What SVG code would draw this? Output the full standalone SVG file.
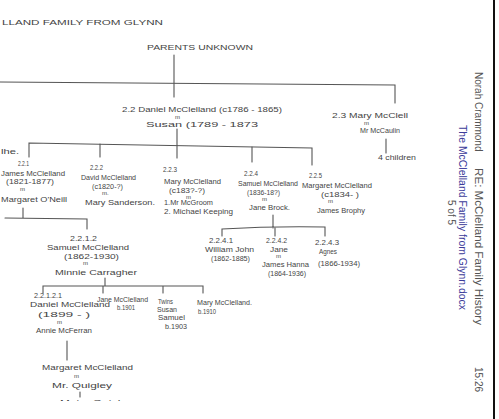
<svg xmlns="http://www.w3.org/2000/svg" width="499" height="419" viewBox="0 0 499 419">
<style>
.h{font-family:"Liberation Sans",Arial,sans-serif;font-size:7.5px;fill:#444;}
.s{font-size:6.5px;}
.m{font-size:6px;}
.cap{font-size:7.5px;}
.ln{stroke:#555;stroke-width:1.1;fill:none;stroke-linecap:round;}
.hd{font-family:"Liberation Sans",Arial,sans-serif;font-size:10px;fill:#555;}
.bl{fill:#3b3b9a;}
</style>
<defs>
<clipPath id="cut"><rect x="0" y="0" width="499" height="401"/></clipPath>
</defs>
<rect width="499" height="419" fill="#fff"/>
<line x1="494" y1="0" x2="494" y2="419" stroke="#111" stroke-width="2"/>
<g id="header">
<text class="hd" transform="translate(475,72) rotate(90)">Norah Crammond</text>
<text class="hd" transform="translate(475,168) rotate(90)" textLength="157" lengthAdjust="spacingAndGlyphs">RE: McClelland Family History</text>
<text class="hd" transform="translate(475,367) rotate(90)">15:26</text>
<text class="hd bl" transform="translate(459,125) rotate(90)" textLength="185" lengthAdjust="spacingAndGlyphs">The McClelland Family from Glynn.docx</text>
<text class="hd" transform="translate(448,200) rotate(90)">5 of 5</text>
</g>
<g id="title"><text class="h cap" x="2" y="25" textLength="161" lengthAdjust="spacingAndGlyphs">LLAND FAMILY FROM GLYNN</text></g>
<g id="connectors">
<path class="ln" d="M174,55 L174,97"/>
<path class="ln" d="M0,82 L395,85 L395,103"/>
<path class="ln" d="M177,129 L177,158"/>
<path class="ln" d="M29,157 L29,143 L312,148 L312,165"/>
<path class="ln" d="M100,144 L100,157 M252,147 L252,162"/>
<path class="ln" d="M386,139 L386,153"/>
<path class="ln" d="M23,208 L23,218 M5,218 L87,219 L87,229"/>
<path class="ln" d="M273,215 L273,228 M222,236 L222,229 Q273,226 325,227 L325,236 M275,228 L275,236"/>
<path class="ln" d="M105,278 L105,286 M43,293 L43,286 L203,286 L203,293 M103,286 L103,293 M163,286 L163,293"/>
<path class="ln" d="M67,341 L67,360"/>
<path class="ln" d="M80,392 L80,397"/>
</g>
<g id="parents"><text class="h cap" x="147" y="50" textLength="106" lengthAdjust="spacingAndGlyphs">PARENTS UNKNOWN</text></g>
<g id="n22">
<text class="h" x="122" y="112" textLength="160" lengthAdjust="spacingAndGlyphs">2.2 Daniel McClelland (c1786 - 1865)</text>
<text class="h m" x="175" y="119">m</text>
<text class="h" x="146" y="127" textLength="112" lengthAdjust="spacingAndGlyphs">Susan (1789 - 1873</text>
</g>
<g id="n23">
<text class="h" x="332" y="118" textLength="76" lengthAdjust="spacingAndGlyphs">2.3 Mary McClell</text>
<text class="h m" x="364" y="125">m</text>
<text class="h s" x="360" y="133" textLength="40" lengthAdjust="spacingAndGlyphs">Mr McCaulin</text>
<text class="h s" x="378" y="160" textLength="38" lengthAdjust="spacingAndGlyphs">4 children</text>
</g>
<g id="nleft"><text class="h" x="1" y="154" textLength="18" lengthAdjust="spacingAndGlyphs">lhe.</text></g>
<g id="n221">
<text class="h" x="18" y="166" textLength="11" lengthAdjust="spacingAndGlyphs">2.2.1</text>
<text class="h" x="1" y="176" textLength="64" lengthAdjust="spacingAndGlyphs">James McClelland</text>
<text class="h" x="6" y="184" textLength="48" lengthAdjust="spacingAndGlyphs">(1821-1877)</text>
<text class="h m" x="20" y="191">m</text>
<text class="h" x="1" y="202" textLength="66" lengthAdjust="spacingAndGlyphs">Margaret O'Neill</text>
</g>
<g id="n222">
<text class="h" x="90" y="170" textLength="13" lengthAdjust="spacingAndGlyphs">2.2.2</text>
<text class="h" x="81" y="180" textLength="55" lengthAdjust="spacingAndGlyphs">David McClelland</text>
<text class="h" x="92" y="189" textLength="31" lengthAdjust="spacingAndGlyphs">(c1820-?)</text>
<text class="h m" x="102" y="195">m.</text>
<text class="h" x="85" y="205" textLength="70" lengthAdjust="spacingAndGlyphs">Mary Sanderson.</text>
</g>
<g id="n223">
<text class="h" x="163" y="172" textLength="14" lengthAdjust="spacingAndGlyphs">2.2.3</text>
<text class="h" x="164" y="184" textLength="57" lengthAdjust="spacingAndGlyphs">Mary McClelland</text>
<text class="h" x="169" y="193" textLength="36" lengthAdjust="spacingAndGlyphs">(c183?-?)</text>
<text class="h m" x="186" y="199">m</text>
<text class="h s" x="164" y="205" textLength="49" lengthAdjust="spacingAndGlyphs">1.Mr McGroom</text>
<text class="h s" x="164" y="214" textLength="69" lengthAdjust="spacingAndGlyphs">2. Michael Keeping</text>
</g>
<g id="n224">
<text class="h" x="244" y="176" textLength="14" lengthAdjust="spacingAndGlyphs">2.2.4</text>
<text class="h" x="238" y="186" textLength="60" lengthAdjust="spacingAndGlyphs">Samuel McClelland</text>
<text class="h" x="247" y="195" textLength="33" lengthAdjust="spacingAndGlyphs">(1836-18?)</text>
<text class="h m" x="262" y="201">m</text>
<text class="h" x="249" y="210" textLength="41" lengthAdjust="spacingAndGlyphs">Jane Brock.</text>
</g>
<g id="n225">
<text class="h" x="309" y="178" textLength="13" lengthAdjust="spacingAndGlyphs">2.2.5</text>
<text class="h" x="302" y="188" textLength="70" lengthAdjust="spacingAndGlyphs">Margaret McClelland</text>
<text class="h" x="321" y="197" textLength="38" lengthAdjust="spacingAndGlyphs">(c1834-   )</text>
<text class="h m" x="328" y="203">m</text>
<text class="h" x="317" y="213" textLength="48" lengthAdjust="spacingAndGlyphs">James Brophy</text>
</g>
<g id="n2241">
<text class="h" x="209" y="243" textLength="24" lengthAdjust="spacingAndGlyphs">2.2.4.1</text>
<text class="h s" x="205" y="252" textLength="49" lengthAdjust="spacingAndGlyphs">William John</text>
<text class="h" x="211" y="261" textLength="39" lengthAdjust="spacingAndGlyphs">(1862-1885)</text>
</g>
<g id="n2242">
<text class="h" x="266" y="243" textLength="21" lengthAdjust="spacingAndGlyphs">2.2.4.2</text>
<text class="h s" x="270" y="252" textLength="18" lengthAdjust="spacingAndGlyphs">Jane</text>
<text class="h m" x="276" y="258">m</text>
<text class="h s" x="262" y="267" textLength="47" lengthAdjust="spacingAndGlyphs">James Hanna</text>
<text class="h" x="268" y="276" textLength="38" lengthAdjust="spacingAndGlyphs">(1864-1936)</text>
</g>
<g id="n2243">
<text class="h" x="315" y="245" textLength="24" lengthAdjust="spacingAndGlyphs">2.2.4.3</text>
<text class="h s" x="319" y="254" textLength="18" lengthAdjust="spacingAndGlyphs">Agnes</text>
<text class="h" x="318" y="266" textLength="42" lengthAdjust="spacingAndGlyphs">(1866-1934)</text>
</g>
<g id="n2212">
<text class="h" x="70" y="241" textLength="27" lengthAdjust="spacingAndGlyphs">2.2.1.2</text>
<text class="h" x="47" y="250" textLength="82" lengthAdjust="spacingAndGlyphs">Samuel McClelland</text>
<text class="h" x="64" y="259" textLength="55" lengthAdjust="spacingAndGlyphs">(1862-1930)</text>
<text class="h m" x="83" y="265">m</text>
<text class="h" x="55" y="275" textLength="82" lengthAdjust="spacingAndGlyphs">Minnie Carragher</text>
</g>
<g id="n22121">
<text class="h" x="34" y="298" textLength="28" lengthAdjust="spacingAndGlyphs">2.2.1.2.1</text>
<text class="h" x="30" y="307" textLength="80" lengthAdjust="spacingAndGlyphs">Daniel McClelland</text>
<text class="h" x="38" y="317" textLength="52" lengthAdjust="spacingAndGlyphs">(1899 -      )</text>
<text class="h m" x="57" y="324">m</text>
<text class="h" x="36" y="333" textLength="56" lengthAdjust="spacingAndGlyphs">Annie McFerran</text>
</g>
<g id="njane">
<text class="h s" x="97" y="302" textLength="51" lengthAdjust="spacingAndGlyphs">Jane McClelland</text>
<text class="h s" x="117" y="310" textLength="18" lengthAdjust="spacingAndGlyphs">b.1901</text>
</g>
<g id="ntwins">
<text class="h s" x="158" y="304" textLength="15" lengthAdjust="spacingAndGlyphs">Twins</text>
<text class="h s" x="157" y="312" textLength="20" lengthAdjust="spacingAndGlyphs">Susan</text>
<text class="h s" x="158" y="320" textLength="27" lengthAdjust="spacingAndGlyphs">Samuel</text>
<text class="h s" x="165" y="329" textLength="22" lengthAdjust="spacingAndGlyphs">b.1903</text>
</g>
<g id="nmary">
<text class="h s" x="197" y="305" textLength="55" lengthAdjust="spacingAndGlyphs">Mary McClelland.</text>
<text class="h s" x="198" y="314" textLength="18" lengthAdjust="spacingAndGlyphs">b.1910</text>
</g>
<g id="nmargaret">
<text class="h" x="42" y="370" textLength="91" lengthAdjust="spacingAndGlyphs">Margaret McClelland</text>
<text class="h m" x="74" y="378">m</text>
<text class="h" x="52" y="388" textLength="60" lengthAdjust="spacingAndGlyphs">Mr. Quigley</text>
</g>
<g id="nmoira" clip-path="url(#cut)">
<text class="h" x="60" y="405" textLength="73" lengthAdjust="spacingAndGlyphs">Moira Quigley</text>
</g>
</svg>
